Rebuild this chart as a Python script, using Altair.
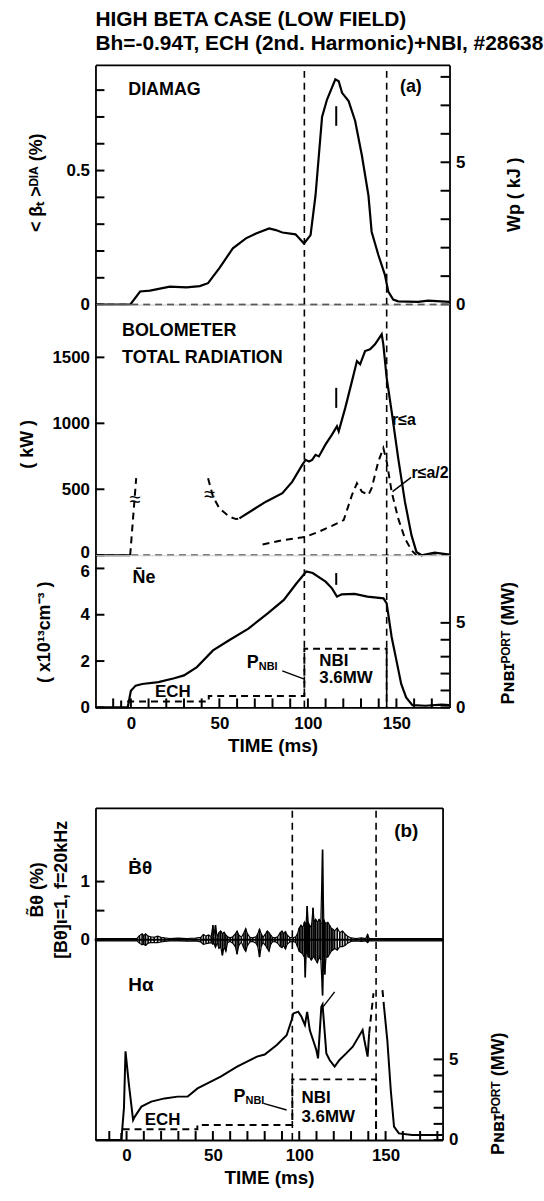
import altair as alt
import pandas as pd

FONT = "Liberation Sans"
INK = "black"
DASH = [7, 5]

TITLE_LINE_1 = "HIGH  BETA  CASE (LOW FIELD)"
TITLE_LINE_2 = "Bh=-0.94T, ECH (2nd. Harmonic)+NBI, #28638"

# ---------------- shared time axis ----------------
X_DOMAIN_A = [-20, 180]
X_DOMAIN_B = [-18, 183]
X_TICKS_A = [-10, 0, 10, 20, 30, 40, 50, 60, 70, 80, 90, 100, 110, 120, 130, 140, 150, 160, 170]
X_TICKS_B = [-10, 0, 10, 20, 30, 40, 50, 60, 70, 80, 90, 100, 110, 120, 130, 140, 150, 160, 170, 180]
X_LABELS = {0: "0", 50: "50", 100: "100", 150: "150"}
X_TITLE = "TIME (ms)"
NBI_EDGES_A = [98, 144.5]
NBI_EDGES_B = [96, 144.5]

# ---------------- (a) DIAMAG ----------------
DIA_DOMAIN = [0, 0.894]
DIA_TICKS = [0, 0.1, 0.2, 0.3, 0.4, 0.5, 0.6, 0.7, 0.8]
DIA_LABELS = {0: "0", 0.5: "0.5"}
WP_DOMAIN = [0, 8.42]
WP_TICKS = [0, 1, 2, 3, 4, 5, 6, 7, 8]
WP_LABELS = {0: "0", 5: "5"}
DIAMAG = [(-20, 0.0), (-0.4, 0.0), (5.2, 0.049), (10.8, 0.052), (22, 0.067), (31.4, 0.064),
          (38.9, 0.069), (43.6, 0.08), (50, 0.136), (57.6, 0.21), (65, 0.247), (70.7, 0.265),
          (78.1, 0.284), (81.9, 0.278), (85.6, 0.269), (93, 0.262), (97.8, 0.228), (101.5, 0.259),
          (104.3, 0.407), (108, 0.70), (110.8, 0.765), (115.5, 0.84), (117.4, 0.833), (119.3, 0.79),
          (123, 0.759), (126.7, 0.685), (130.5, 0.556), (134.2, 0.407), (136, 0.272), (139.8, 0.185),
          (143.5, 0.111), (145.4, 0.049), (148.2, 0.019), (151, 0.012), (162.2, 0.01), (167.9, 0.015),
          (180, 0.01)]
DIAMAG_ARROW = [(116, 0.667, 0.74)]
DIAMAG_TEXT = [(-1.5, 0.80, "DIAMAG"), (152, 0.81, "(a)")]

# ---------------- (a) BOLOMETER ----------------
BOLO_DOMAIN = [0, 1900]
BOLO_TICKS = [0, 500, 1000, 1500]
BOLO_LABELS = {0: "0", 500: "500", 1000: "1000", 1500: "1500"}
BOLO_START = [(-20, 0), (-0.4, 0)]
BOLO_RISE = [(-0.4, 0), (3, 584)]
BOLO_DIP = [(43.6, 584), (46.4, 444), (50, 355), (55.7, 292), (59.4, 274), (61.3, 279)]
BOLO_R_A = [(61.3, 279), (68.8, 343), (76.3, 406), (85.6, 470), (91.2, 558), (96.8, 685),
            (98.7, 723), (100.6, 711), (102.4, 723), (104.3, 761), (106.2, 749), (109.9, 838),
            (113.6, 914), (116.4, 977), (117.4, 939), (121.1, 1117), (124.9, 1320), (127.7, 1472),
            (129.5, 1447), (132.3, 1548), (135.1, 1561), (137.9, 1599), (141.7, 1675), (142.6, 1599),
            (144.5, 1345), (147.3, 1091), (151, 736), (154.8, 406), (158.5, 152), (161.3, 25),
            (164.2, 0), (171.6, 20), (180, 5)]
BOLO_R_HALF = [(74.4, 81), (85.6, 114), (98.7, 140), (106.2, 178), (113.6, 223), (120.2, 266),
               (124.9, 457), (127.7, 546), (130.5, 482), (134.2, 457), (136, 508), (139.8, 711),
               (142.6, 812), (144.5, 711), (147.3, 482), (151, 279), (154.8, 127), (158.5, 38),
               (161.3, 0)]
BOLO_BREAKS = [(2.4, 419, "≈"), (44.5, 457, "≈")]
BOLO_ARROW = [(116, 1117, 1269)]
BOLO_TEXT = [(-5, 1700, "BOLOMETER"), (-5, 1497, "TOTAL RADIATION")]
BOLO_CURVE_TEXT = [(147.5, 1028, "r≤a"), (158.5, 622, "r≤a/2")]
BOLO_LEADER = [(158.3, 590), (147.8, 482)]

# ---------------- (a) line density + P_NBI ----------------
NE_DOMAIN = [0, 6.57]
NE_TICKS = [0, 2, 4, 6]
NE_LABELS = {0: "0", 2: "2", 4: "4", 6: "6"}
PA_DOMAIN = [0, 9.0]
P_TICKS = [0, 1, 2, 3, 4, 5]
P_LABELS = {0: "0", 5: "5"}
NE = [(-20, 0), (-1.8, 0), (0, 0.72), (2.7, 0.94), (6.4, 1.01), (15.5, 1.09), (24.5, 1.26),
      (30, 1.38), (37.3, 1.74), (46.4, 2.46), (55.5, 2.9), (66.4, 3.4), (77.3, 4.06), (86.4, 4.64),
      (93.6, 5.36), (99.1, 5.87), (102.7, 5.8), (110, 5.43), (113.6, 5.14), (116.4, 4.78),
      (119.1, 4.88), (126.4, 4.9), (133.6, 4.78), (142.7, 4.71), (144.5, 4.49), (147.3, 3.04),
      (150, 2.03), (152.7, 1.01), (155.5, 0.43), (159, 0.1), (166.4, 0.07), (175.5, 0.12), (180, 0.1)]
NE_ARROW = [(116, 5.29, 5.8)]
NE_TEXT = [(0.9, 5.58, "N\u0304e")]
PNBI_A = [(-5.5, 0), (-5.5, 0.35), (44, 0.35), (44, 0.67), (98, 0.67), (98, 3.47),
          (144.5, 3.47), (144.5, 0)]
PNBI_A_TEXT = [(106.4, 2.75, "NBI"), (106.4, 1.76, "3.6MW"), (13.6, 0.88, "ECH")]
PNBI_A_P = [(65.5, 2.65, "P")]
PNBI_A_SUB = [(65.5, 2.65, "NBI")]
PNBI_A_LEADER = [(85.5, 2.16), (98.0, 1.67)]

# ---------------- (b) ----------------
B_DOMAIN = [-3.45, 2.27]
B_TICKS = [0, 0.5, 1]
B_LABELS = {0: "0", 1: "1"}
PB_DOMAIN = [0, 20.6]
# (time, upper envelope, lower envelope) of the fluctuation trace
BTHETA_ENV = [(-18, 0.02, -0.02), (6, 0.02, -0.02), (7.5, 0.07, -0.06), (9, 0.1, -0.09),
              (10, 0.07, -0.08), (11, 0.1, -0.1), (12.5, 0.06, -0.06), (14, 0.05, -0.05),
              (16, 0.04, -0.05), (18, 0.06, -0.05), (20, 0.04, -0.04), (22, 0.03, -0.03),
              (25, 0.02, -0.02), (30, 0.025, -0.02), (35, 0.02, -0.025), (40, 0.025, -0.02),
              (43, 0.04, -0.04), (44.5, 0.09, -0.08), (46, 0.06, -0.07), (47.5, 0.08, -0.06),
              (49, 0.05, -0.05), (50, 0.25, -0.08), (50.5, 0.05, -0.05), (51.5, 0.25, -0.13),
              (52.5, 0.04, -0.05), (53.5, 0.12, -0.15), (54.5, 0.15, -0.12), (55.5, 0.1, -0.27),
              (56.5, 0.13, -0.12), (57.5, 0.08, -0.2), (58.5, 0.05, -0.05), (60, 0.03, -0.03),
              (61.5, 0.05, -0.06), (63, 0.1, -0.12), (64, 0.15, -0.25), (65, 0.08, -0.1),
              (66.5, 0.04, -0.04), (68, 0.12, -0.15), (69, 0.19, -0.2), (70, 0.1, -0.1),
              (71.5, 0.04, -0.04), (73, 0.03, -0.03), (75, 0.05, -0.06), (76, 0.1, -0.12),
              (77, 0.18, -0.3), (78, 0.1, -0.12), (79, 0.04, -0.05), (80.5, 0.1, -0.1),
              (81.5, 0.15, -0.15), (82.5, 0.12, -0.2), (83.5, 0.08, -0.08), (84.5, 0.04, -0.04),
              (86, 0.03, -0.03), (87.5, 0.05, -0.06), (89, 0.12, -0.12), (90, 0.15, -0.14),
              (91, 0.1, -0.1), (92, 0.14, -0.16), (93, 0.08, -0.08), (94.5, 0.04, -0.04),
              (96.5, 0.03, -0.03), (98, 0.05, -0.05), (99, 0.1, -0.12), (100, 0.2, -0.2),
              (101, 0.25, -0.22), (102, 0.2, -0.25), (103, 0.3, -0.3), (103.5, 0.25, -0.65),
              (104, 0.3, -0.25), (104.6, 0.58, -0.2), (105.2, 0.3, -0.3), (106, 0.25, -0.3),
              (107, 0.2, -0.35), (108, 0.55, -0.3), (108.6, 0.3, -0.3), (109.5, 0.35, -0.35),
              (110.5, 0.3, -0.4), (111.5, 0.35, -0.3), (112.5, 0.3, -0.35), (113.5, 1.55, -0.96),
              (114.2, 0.35, -0.3), (114.8, 0.3, -0.6), (115.5, 0.28, -0.3), (116.5, 0.3, -0.3),
              (117.5, 0.25, -0.25), (118.5, 0.2, -0.2), (119.5, 0.18, -0.18), (120.5, 0.15, -0.15),
              (122, 0.2, -0.18), (123.5, 0.12, -0.12), (125, 0.15, -0.12), (126.5, 0.1, -0.1),
              (128, 0.06, -0.06), (130, 0.03, -0.03), (133, 0.02, -0.02), (136, 0.03, -0.03),
              (138.5, 0.02, -0.02), (139.6, 0.09, -0.05), (140.5, 0.02, -0.02), (150, 0.02, -0.02),
              (183, 0.02, -0.02)]
BTHETA_BASE = [(-18, 0), (183, 0)]
HALPHA = [(-18, 0), (-3, 0), (-1.5, 2.0), (-0.6, 5.5), (1.3, 3.5), (3.8, 1.24), (4.8, 1.45),
          (8.6, 2.07), (14.3, 2.38), (22, 2.58), (29.6, 2.69), (35.4, 2.69), (41.1, 3.2),
          (46.8, 3.51), (54.5, 3.93), (64, 4.55), (75.5, 5.17), (80, 5.3), (87, 5.89), (92.7, 6.5),
          (95.6, 7.44), (96.6, 7.85), (99.4, 7.95), (101.3, 7.64), (103.3, 7.13), (104.6, 7.95),
          (106.1, 6.82), (108, 6.2), (109.9, 5.58), (110.9, 5.06), (112.8, 8.26), (113.5, 8.4),
          (115.7, 5.37), (117.6, 4.96), (120.5, 4.55), (123.3, 4.96), (127.2, 5.37), (131, 5.79),
          (136.7, 6.82), (137.7, 6.2), (139.6, 5.17), (140.5, 6.61)]
HALPHA_SAT_1 = [(140.5, 6.61), (143, 9.1)]
HALPHA_SAT_2 = [(148.2, 9.3), (149.1, 8.26)]
HALPHA_TAIL = [(149.1, 8.26), (151, 6.2), (153, 3.1), (154.9, 0.83), (157.7, 0.41), (165.4, 0.31),
               (183, 0.31)]
HALPHA_POINTER = [(113.8, 8.26), (120.5, 9.19)]
PNBI_B = [(-3, 0), (-3, 0.66), (41, 0.66), (41, 0.93), (96, 0.93), (96, 3.76), (144.5, 3.76),
          (144.5, 0)]
B_TEXT = [(155, 1.87, "(b)"), (1, 1.24, "Ḃθ"), (1, -0.79, "Hα")]
PNBI_B_TEXT = [(10.5, 1.24, "ECH"), (101.3, 2.58, "NBI"), (101.3, 1.45, "3.6MW")]
PNBI_B_P = [(62, 2.69, "P")]
PNBI_B_SUB = [(62, 2.69, "NBI")]
PNBI_B_LEADER = [(79.3, 2.27), (92.7, 1.86)]

W_A, W_B = 356, 349
H1, H2, H3, HB = 241, 252, 153, 334

P_TITLE = "Pɴʙɪᴾᴼᴿᵀ (MW)"
TICK_PX = 9  # inward tick length in pixels

# ---------------- helpers ----------------
LABEL_STYLE = dict(labelFont=FONT, labelFontSize=17, labelFontWeight="bold", labelColor=INK,
                   titleFont=FONT, titleFontWeight="bold", titleColor=INK, labelOverlap=False,
                   grid=False)


def label_expr(labels):
    s = ""
    for k, v in labels.items():
        s += f"datum.value == {k} ? '{v}' : "
    return s + "''"


def yaxis(orient, ticks, labels, title, tx, ty, size=18, shift_value=None, shift=0):
    extra = {}
    if shift_value is not None:
        extra["labelOffset"] = {"condition": {"test": f"datum.value == {shift_value}", "value": shift},
                                "value": 0}
    return alt.Axis(orient=orient, values=ticks, labelExpr=label_expr(labels), ticks=False,
                    tickSize=0, labelPadding=6, domain=True, domainColor=INK, domainWidth=1.8,
                    title=title, titleX=tx, titleY=ty, titleAngle=270, titleAlign="center",
                    titleBaseline="middle", titleFontSize=size, titleLineHeight=24,
                    labelAlign="right" if orient == "left" else "left", labelBaseline="middle",
                    **LABEL_STYLE, **extra)


def xaxis_bottom(ticks):
    return alt.Axis(orient="bottom", values=ticks, labelExpr=label_expr(X_LABELS), ticks=False,
                    tickSize=0, labelPadding=8, domain=True, domainColor=INK, domainWidth=1.8,
                    title=X_TITLE, titlePadding=5, titleFontSize=19, **LABEL_STYLE)


def border_axis(orient):
    return alt.Axis(orient=orient, labels=False, ticks=False, domain=True, title=None,
                    domainColor=INK, domainWidth=1.8, grid=False)


def frame(rows, cols):
    d = pd.DataFrame(rows, columns=cols)
    d["i"] = range(len(d))
    return d


def xenc(dom, axis=None):
    return alt.X("t:Q", scale=alt.Scale(domain=dom, nice=False, zero=False), axis=axis)


def yenc(field, dom, axis=None):
    return alt.Y(f"{field}:Q", scale=alt.Scale(domain=dom, nice=False, zero=False), axis=axis)


def line(rows, field, xdom, ydom, dashed=False, width=2.0):
    kw = dict(color=INK, strokeWidth=width)
    if dashed:
        kw["strokeDash"] = DASH
    return alt.Chart(frame(rows, ["t", field])).mark_line(**kw).encode(
        x=xenc(xdom), y=yenc(field, ydom), order="i:Q")


def vrules(ts, field, xdom, ydom):
    d = pd.DataFrame({"t": ts, field: [ydom[0]] * len(ts), "top": [ydom[1]] * len(ts)})
    return alt.Chart(d).mark_rule(color=INK, strokeWidth=1.6, strokeDash=DASH).encode(
        x=xenc(xdom), y=yenc(field, ydom), y2="top:Q")


def zero_rule(field, xdom, ydom):
    d = pd.DataFrame({"t": [xdom[0]], "t2": [xdom[1]], field: [0]})
    return alt.Chart(d).mark_rule(color=INK, strokeWidth=1.6, strokeDash=DASH).encode(
        x=xenc(xdom), x2="t2:Q", y=yenc(field, ydom))


def segs(rows, field, xdom, ydom, width=2.0):
    return alt.Chart(frame(rows, ["t", field, field + "2"])).mark_rule(
        color=INK, strokeWidth=width).encode(x=xenc(xdom), y=yenc(field, ydom), y2=f"{field}2:Q")


def texts(rows, field, xdom, ydom, size=18, align="left", weight="bold", dx=0, dy=0):
    return alt.Chart(frame(rows, ["t", field, "label"])).mark_text(
        font=FONT, fontSize=size, fontWeight=weight, align=align, baseline="middle",
        color=INK, dx=dx, dy=dy).encode(x=xenc(xdom), y=yenc(field, ydom), text="label:N")


def holder(field, xdom, ydom, ticks, yaxis_=None, xaxis_=None):
    d = pd.DataFrame({"t": [xdom[0]] * len(ticks), field: ticks})
    return alt.Chart(d).mark_point(opacity=0).encode(
        x=xenc(xdom, xaxis_), y=yenc(field, ydom, yaxis_))


def side_ticks(field, xdom, ydom, values, w, side):
    # short horizontal ticks pointing into the plot from the left or right frame
    dt = TICK_PX * (xdom[1] - xdom[0]) / w
    t0 = xdom[0] if side == "left" else xdom[1]
    t1 = t0 + dt if side == "left" else t0 - dt
    d = pd.DataFrame({"t": [t0] * len(values), "t2": [t1] * len(values), field: values})
    return alt.Chart(d).mark_rule(color=INK, strokeWidth=2).encode(
        x=xenc(xdom), x2="t2:Q", y=yenc(field, ydom))


def bottom_ticks(field, xdom, ydom, values, h):
    dv = TICK_PX * (ydom[1] - ydom[0]) / h
    d = pd.DataFrame({"t": values, field: [ydom[0]] * len(values),
                      "top": [ydom[0] + dv] * len(values)})
    return alt.Chart(d).mark_rule(color=INK, strokeWidth=2).encode(
        x=xenc(xdom), y=yenc(field, ydom), y2="top:Q")


def panel(layers, w, h, **props):
    return alt.layer(*layers).resolve_scale(y="independent").resolve_axis(
        x="independent").properties(width=w, height=h, **props)


XA, XB = X_DOMAIN_A, X_DOMAIN_B

# ---------------- (a1) diamagnetic ----------------
a1 = panel([
    holder("v", XA, DIA_DOMAIN, DIA_TICKS,
           yaxis("left", DIA_TICKS, DIA_LABELS, "< βₜ >ᴰᴵᴬ        (%)", -59, 118),
           border_axis("top")),
    holder("wp", XA, WP_DOMAIN, WP_TICKS,
           yaxis("right", WP_TICKS, WP_LABELS, "Wp ( kJ )", 65, 130)),
    side_ticks("v", XA, DIA_DOMAIN, DIA_TICKS, W_A, "left"),
    side_ticks("wp", XA, WP_DOMAIN, WP_TICKS, W_A, "right"),
    zero_rule("v", XA, DIA_DOMAIN),
    vrules(NBI_EDGES_A, "v", XA, DIA_DOMAIN),
    line(DIAMAG, "v", XA, DIA_DOMAIN, width=2.2),
    segs(DIAMAG_ARROW, "v", XA, DIA_DOMAIN),
    texts(DIAMAG_TEXT, "v", XA, DIA_DOMAIN),
], W_A, H1,
    title=alt.TitleParams(text=TITLE_LINE_1, subtitle=TITLE_LINE_2, anchor="start", frame="group",
                          font=FONT, fontSize=21, fontWeight="bold", color=INK,
                          subtitleFont=FONT, subtitleFontSize=21, subtitleFontWeight="bold",
                          subtitleColor=INK, subtitlePadding=3, offset=10))

# ---------------- (a2) bolometer ----------------
a2 = panel([
    holder("v", XA, BOLO_DOMAIN, BOLO_TICKS,
           yaxis("left", BOLO_TICKS, BOLO_LABELS, "( kW )", -68, 140, shift_value=0, shift=-3)),
    holder("r", XA, [0, 1], [0, 1], border_axis("right")),
    side_ticks("v", XA, BOLO_DOMAIN, BOLO_TICKS, W_A, "left"),
    zero_rule("v", XA, BOLO_DOMAIN),
    vrules(NBI_EDGES_A, "v", XA, BOLO_DOMAIN),
    line(BOLO_START, "v", XA, BOLO_DOMAIN),
    line(BOLO_RISE, "v", XA, BOLO_DOMAIN, dashed=True),
    line(BOLO_DIP, "v", XA, BOLO_DOMAIN, dashed=True),
    line(BOLO_R_A, "v", XA, BOLO_DOMAIN, width=2.2),
    line(BOLO_R_HALF, "v", XA, BOLO_DOMAIN, dashed=True, width=2.0),
    line(BOLO_LEADER, "v", XA, BOLO_DOMAIN, width=1.4),
    segs(BOLO_ARROW, "v", XA, BOLO_DOMAIN),
    texts(BOLO_TEXT, "v", XA, BOLO_DOMAIN),
    texts(BOLO_CURVE_TEXT, "v", XA, BOLO_DOMAIN, size=16),
    texts(BOLO_BREAKS, "v", XA, BOLO_DOMAIN, size=20, align="center", weight="normal"),
], W_A, H2)

# ---------------- (a3) density ----------------
a3 = panel([
    holder("v", XA, NE_DOMAIN, NE_TICKS,
           yaxis("left", NE_TICKS, NE_LABELS, "( x10¹³cm⁻³ )", -51, 77, shift_value=6, shift=3),
           xaxis_bottom(X_TICKS_A)),
    holder("p", XA, PA_DOMAIN, P_TICKS,
           yaxis("right", P_TICKS, P_LABELS, P_TITLE, 59, 88)),
    side_ticks("v", XA, NE_DOMAIN, NE_TICKS, W_A, "left"),
    side_ticks("p", XA, PA_DOMAIN, P_TICKS, W_A, "right"),
    bottom_ticks("v", XA, NE_DOMAIN, X_TICKS_A, H3),
    vrules(NBI_EDGES_A, "v", XA, NE_DOMAIN),
    line(NE, "v", XA, NE_DOMAIN, width=2.2),
    segs(NE_ARROW, "v", XA, NE_DOMAIN),
    texts(NE_TEXT, "v", XA, NE_DOMAIN),
    line(PNBI_A, "p", XA, PA_DOMAIN, dashed=True),
    line(PNBI_A_LEADER, "p", XA, PA_DOMAIN, width=1.4),
    texts(PNBI_A_TEXT, "p", XA, PA_DOMAIN, size=17),
    texts(PNBI_A_P, "p", XA, PA_DOMAIN, size=18),
    texts(PNBI_A_SUB, "p", XA, PA_DOMAIN, size=11, dx=12, dy=4),
], W_A, H3)

# ---------------- (b) ----------------
b = panel([
    holder("v", XB, B_DOMAIN, B_TICKS,
           yaxis("left", B_TICKS, B_LABELS, ["B̃θ          (%)", "[Bθ]ι=1, f=20kHz"], -58, 82),
           xaxis_bottom(X_TICKS_B)),
    holder("p", XB, PB_DOMAIN, P_TICKS,
           yaxis("right", P_TICKS, P_LABELS, P_TITLE, 56, 287),
           border_axis("top")),
    side_ticks("v", XB, B_DOMAIN, B_TICKS, W_B, "left"),
    side_ticks("p", XB, PB_DOMAIN, P_TICKS, W_B, "right"),
    bottom_ticks("v", XB, B_DOMAIN, X_TICKS_B, HB),
    vrules(NBI_EDGES_B, "v", XB, B_DOMAIN),
    segs(BTHETA_ENV, "hi", XB, B_DOMAIN, width=1.6),
    line([(r[0], r[1]) for r in BTHETA_ENV], "hi", XB, B_DOMAIN, width=1.2),
    line([(r[0], r[2]) for r in BTHETA_ENV], "hi", XB, B_DOMAIN, width=1.2),
    line(BTHETA_BASE, "v", XB, B_DOMAIN, width=2.0),
    texts(B_TEXT, "v", XB, B_DOMAIN, size=19),
    line(HALPHA, "p", XB, PB_DOMAIN, width=2.0),
    line(HALPHA_SAT_1, "p", XB, PB_DOMAIN, dashed=True),
    line(HALPHA_SAT_2, "p", XB, PB_DOMAIN, dashed=True),
    line(HALPHA_TAIL, "p", XB, PB_DOMAIN, width=2.0),
    line(HALPHA_POINTER, "p", XB, PB_DOMAIN, width=1.4),
    line(PNBI_B, "p", XB, PB_DOMAIN, dashed=True),
    line(PNBI_B_LEADER, "p", XB, PB_DOMAIN, width=1.4),
    texts(PNBI_B_TEXT, "p", XB, PB_DOMAIN, size=17),
    texts(PNBI_B_P, "p", XB, PB_DOMAIN, size=18),
    texts(PNBI_B_SUB, "p", XB, PB_DOMAIN, size=11, dx=12, dy=4),
], W_B, HB)

panel_a = alt.vconcat(a1, a2, a3, spacing=0, bounds="flush")

chart = alt.vconcat(panel_a, b, spacing=50).properties(
    padding={"left": 18, "top": 5, "right": 0, "bottom": 0}
).configure_view(stroke="transparent").configure(font=FONT)

chart.save("out.html", embed_options={"renderer": "svg", "actions": False})
